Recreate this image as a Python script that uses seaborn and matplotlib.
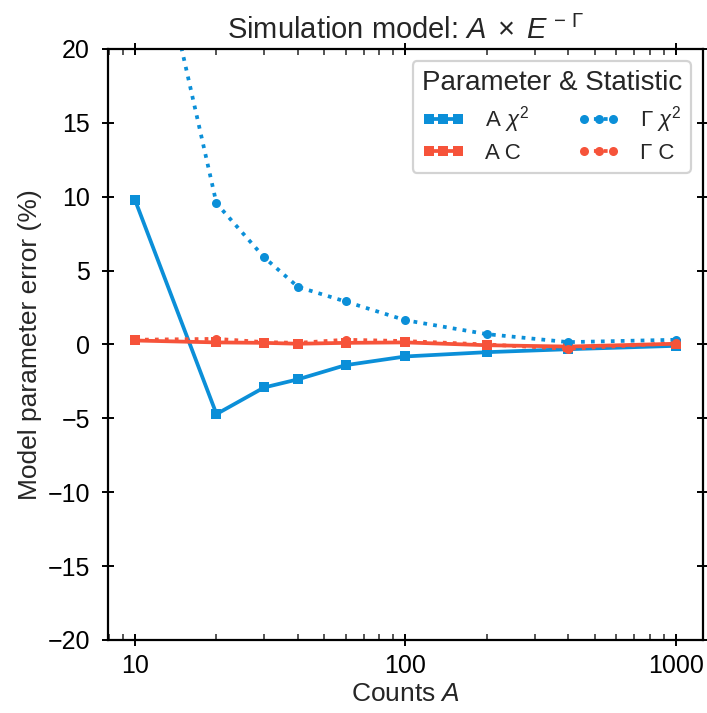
import matplotlib
matplotlib.use("Agg")
import matplotlib.pyplot as plt
import seaborn as sns
import pandas as pd
import numpy as np

counts = [10, 20, 30, 40, 60, 100, 200, 400, 1000]
a_chi2 = [9.77, -4.71, -2.91, -2.36, -1.40, -0.81, -0.52, -0.32, -0.09]
g_chi2 = [34.0, 9.55, 5.90, 3.90, 2.91, 1.64, 0.70, 0.16, 0.32]
a_c = [0.27, 0.14, 0.11, 0.05, 0.11, 0.14, -0.05, -0.14, 0.05]
g_c = [0.32, 0.38, 0.16, 0.11, 0.32, 0.23, 0.00, -0.29, 0.09]

labels = ["A $\\chi^2$", "A C", "Γ $\\chi^2$", "Γ C"]
blue = "#0b8fd8"
red = "#f6533a"

sns.set_theme(style="ticks")
plt.rcParams["font.family"] = ["Liberation Sans", "DejaVu Sans"]
plt.rcParams["mathtext.fontset"] = "custom"
plt.rcParams["mathtext.rm"] = "Liberation Sans"
plt.rcParams["mathtext.it"] = "Liberation Sans:italic"
plt.rcParams["mathtext.bf"] = "Liberation Sans:bold"
plt.rcParams["axes.unicode_minus"] = True

fig = plt.figure(figsize=(7.07, 7.13), dpi=100)
ax = fig.add_axes([0.1528, 0.1024, 0.8415, 0.8289])

series = [
    (labels[0], a_chi2, blue, "-", "s"),
    (labels[1], a_c, red, "-", "s"),
    (labels[2], g_chi2, blue, ":", "o"),
    (labels[3], g_c, red, ":", "o"),
]
for lab, vals, col, ls, mk in series:
    df = pd.DataFrame({"x": counts, "y": vals})
    sns.lineplot(data=df, x="x", y="y", ax=ax, color=col, linestyle=ls,
                 marker=mk, markersize=6.5, markeredgewidth=0, linewidth=2.7,
                 label=lab)

ax.set_xscale("log")
ax.set_ylim(-20, 20)
ax.set_yticks([-20, -15, -10, -5, 0, 5, 10, 15, 20])
ax.set_xticks([10, 100, 1000])
ax.set_xticklabels(["10", "100", "1000"])
ax.margins(x=0.05)

for s in ax.spines.values():
    s.set_linewidth(1.6)
    s.set_color("black")
ax.tick_params(which="major", direction="inout", length=8, width=1.4,
               top=True, right=True, labelsize=18, colors="black")
ax.tick_params(axis="y", which="major", pad=9)
ax.tick_params(axis="x", which="major", pad=6)
ax.tick_params(which="minor", direction="in", length=4, width=1.1,
               top=True, right=True)

ax.set_xlabel("Counts $A$", fontsize=19, labelpad=3)
ax.set_ylabel("Model parameter error (%)", fontsize=19, labelpad=4)
ax.set_title("Simulation model: $A\\;\\times\\;E^{\\,-\\,\\Gamma}$", fontsize=21, pad=7)

leg = ax.legend(ncol=2, loc="upper right", title="Parameter & Statistic",
                fontsize=16, title_fontsize=20, numpoints=3, handlelength=1.9,
                handletextpad=0.9, columnspacing=2.2, frameon=True, fancybox=True,
                edgecolor="#c8c8c8", borderpad=0.4, labelspacing=0.36,
                borderaxespad=0.55, bbox_to_anchor=(1.0, 1.0))
leg.get_frame().set_linewidth(1.6)

fig.savefig("out.png", dpi=100)
